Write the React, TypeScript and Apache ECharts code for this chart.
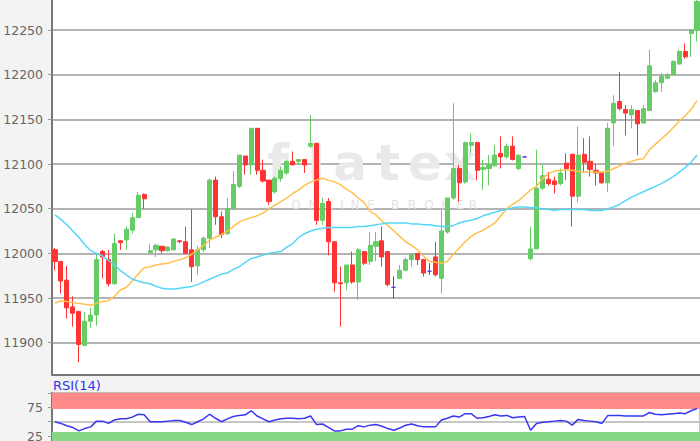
import { useEffect, useRef } from 'react';
import * as echarts from 'echarts';

const opens = [12004,11991,11970,11940,11935,11897,11924,11931,12002,11993,11966,12014,12015,12026,12040,12066,12001,12004,12008,12003,12004,12014,12013,12004,11986,12004,12017,12082,12041,12022,12050,12075,12109,12099,12140,12093,12082,12069,12084,12090,12103,12103,12105,12120,12123,12037,12058,12013,11967,11967,11987,11968,12002,11991,12008,12014,12002,11962,11972,11981,11993,12000,11993,11980,11996,11972,12024,12062,12095,12080,12121,12124,12094,12095,12098,12112,12108,12120,12095,12108,11994,12005,12073,12083,12081,12078,12101,12111,12064,12111,12103,12093,12090,12079,12146,12170,12161,12155,12160,12146,12160,12181,12191,12196,12200,12212,12226,12246,12250];
const closes = [11991,11969,11939,11933,11898,11924,11931,11993,11996,11966,12011,12012,12027,12040,12065,12061,12003,12009,12003,12007,12016,12013,12000,11985,12004,12017,12082,12041,12021,12050,12077,12110,12099,12140,12093,12081,12058,12084,12093,12103,12099,12105,12099,12123,12037,12056,12013,11967,11966,11987,11968,12004,11989,12009,12013,11996,11965,11962,11981,11993,11999,11993,11978,11980,11976,12025,12062,12095,12079,12124,12124,12093,12096,12099,12110,12108,12120,12105,12110,12108,12005,12073,12087,12078,12077,12090,12095,12064,12110,12102,12094,12090,12079,12140,12168,12162,12157,12161,12145,12162,12210,12191,12198,12200,12215,12226,12220,12250,12282];
const lows = [11981,11955,11927,11918,11878,11896,11916,11919,11972,11963,11965,12004,12004,12022,12040,12050,12000,11996,12000,12002,12003,12011,12000,11968,11976,12002,12006,12032,12017,12021,12050,12073,12088,12088,12088,12079,12054,12067,12080,12088,12099,12099,12090,12118,12032,12032,11998,11957,11918,11959,11966,11948,11987,11987,11991,11985,11963,11950,11972,11980,11985,11987,11974,11976,11974,11955,12022,12060,12058,12078,12112,12082,12071,12076,12097,12095,12106,12104,12093,12107,11992,12005,12071,12076,12067,12076,12082,12030,12057,12090,12086,12076,12078,12069,12120,12160,12132,12140,12110,12145,12160,12180,12181,12195,12200,12211,12218,12220,12237];
const highs = [12006,11991,11986,11952,11935,11934,11939,11999,12004,12004,12022,12015,12030,12045,12069,12067,12011,12011,12008,12008,12017,12015,12030,12049,12008,12019,12084,12086,12047,12062,12092,12110,12109,12140,12140,12105,12082,12086,12097,12105,12114,12105,12105,12155,12123,12062,12062,12013,11985,11987,12002,12006,12002,12024,12024,12030,12002,11974,11987,11995,12000,12000,11994,11989,12013,12049,12062,12168,12099,12125,12134,12125,12105,12110,12121,12131,12123,12131,12110,12109,12030,12116,12099,12091,12086,12095,12112,12111,12142,12129,12131,12100,12090,12146,12177,12203,12166,12166,12160,12166,12228,12194,12202,12202,12216,12228,12235,12251,12292];
const maShort = [11944,11947,11946,11945,11944,11943,11942,11944,11946,11947,11952,11959,11962,11969,11977,11984,11985,11987,11988,11989,11991,11993,11995,11999,12004,12009,12015,12018,12021,12025,12030,12035,12038,12040,12042,12045,12050,12054,12058,12062,12067,12071,12076,12080,12082,12084,12082,12080,12077,12072,12068,12062,12057,12047,12043,12036,12031,12025,12019,12013,12009,12004,11997,11991,11990,11989,11991,11999,12006,12013,12019,12023,12026,12030,12034,12042,12050,12055,12059,12065,12071,12075,12084,12089,12092,12093,12093,12093,12092,12091,12091,12091,12091,12092,12095,12098,12101,12103,12105,12106,12116,12122,12128,12134,12141,12148,12154,12161,12171];
const maLong = [12043,12038,12032,12025,12018,12010,12003,12000,11997,11992,11987,11981,11976,11971,11969,11967,11966,11963,11961,11960,11960,11961,11962,11963,11965,11968,11971,11974,11977,11978,11982,11985,11990,11994,11996,11998,12000,12001,12002,12007,12011,12018,12022,12025,12027,12028,12029,12029,12029,12029,12029,12030,12030,12031,12032,12033,12034,12034,12034,12034,12033,12033,12032,12032,12031,12030,12030,12031,12034,12036,12037,12039,12042,12044,12046,12048,12049,12051,12052,12052,12051,12051,12050,12049,12048,12049,12049,12049,12049,12049,12048,12048,12048,12050,12052,12055,12059,12063,12066,12069,12072,12075,12078,12082,12086,12091,12096,12102,12110];
const rsi = [50,47,43,40,34,38,41,51,51,47,53,55,55,58,63,62,50,50,50,51,52,52,49,45,50,55,63,56,50,55,59,61,62,69,60,55,50,53,55,56,56,55,56,60,45,46,40,34,34,37,37,43,41,44,45,42,38,35,39,44,46,43,41,41,41,53,56,60,58,64,64,56,57,59,62,60,61,57,58,59,35,47,49,50,51,52,51,44,54,52,51,50,47,61,61,61,60,60,60,60,66,63,62,63,64,65,64,69,73];
const rsiTicks = [25, 75];
const overbought = [72, 100];
const oversold = [0, 32];

const categories = opens.map((_, i) => String(i + 1));
const ohlc = opens.map((o, i) => [o, closes[i], lows[i], highs[i]]);

const wmLetters = ['f', 'l', 'a', 't', 'e', 'x'];
const wmX = [278, 316, 350, 388, 425, 460];
const subLetters = ['O', 'N', 'L', 'I', 'N', 'E', 'B', 'R', 'O', 'K', 'E', 'R'];
const subX = [296, 313, 329, 342, 355, 371, 395, 412, 429, 445, 460, 473];

export default function App() {
  const ref = useRef<HTMLDivElement>(null);
  useEffect(() => {
    if (!ref.current) return;
    const chart = echarts.init(ref.current, null, { renderer: 'svg' });
    const graphics: any[] = [];
    wmLetters.forEach((t, i) => graphics.push({
      type: 'text', x: wmX[i], y: 163, z: 1, silent: true,
      style: { text: t, fontSize: 50, fontWeight: 'bold', fontFamily: 'DejaVu Sans', fill: '#e9e9e9', align: 'center', verticalAlign: 'middle' },
    }));
    subLetters.forEach((t, i) => graphics.push({
      type: 'text', x: subX[i], y: 205, z: 1, silent: true,
      style: { text: t, fontSize: 12, fontFamily: 'DejaVu Sans', fill: '#e3e3e3', align: 'center', verticalAlign: 'middle' },
    }));
    graphics.push({
      type: 'text', x: 53, y: 385, z: 5,
      style: { text: 'RSI(14)', fontSize: 13, fontFamily: 'DejaVu Sans', fill: '#2b35e8', align: 'left', verticalAlign: 'middle' },
    });
    const option: any = {
      animation: false,
      backgroundColor: '#f3f3f3',
      graphic: graphics,
      grid: [
        { left: 52, right: 0, top: -3, height: 377.3, show: true, backgroundColor: '#fff', borderWidth: 0, containLabel: false, outerBoundsMode: 'none' },
        { left: 52, right: 0, top: 393, bottom: -9.4, show: true, backgroundColor: '#fff', borderColor: '#888', borderWidth: 1, containLabel: false, outerBoundsMode: 'none' },
      ],
      xAxis: [
        { type: 'category', gridIndex: 0, data: categories, boundaryGap: true, axisLine: { show: true, onZero: false, lineStyle: { color: '#777', width: 2 } }, axisTick: { show: false }, axisLabel: { show: false }, splitLine: { show: false } },
        { type: 'category', gridIndex: 1, data: categories, boundaryGap: true, axisLine: { show: false }, axisTick: { show: false }, axisLabel: { show: false }, splitLine: { show: false } },
      ],
      yAxis: [
        {
          type: 'value', gridIndex: 0, min: 11864.6, max: 12287, splitNumber: 8, minInterval: 50, maxInterval: 50, scale: true,
          axisLine: { show: true, lineStyle: { color: '#777', width: 2 } },
          axisTick: { show: true, length: 4, lineStyle: { color: '#999' } },
          axisLabel: { color: '#666', fontSize: 12.5, fontFamily: 'DejaVu Sans', margin: 9, showMinLabel: false, showMaxLabel: false, formatter: (v: number) => String(Math.round(v)) },
          splitLine: { show: true, lineStyle: { color: '#b3b3b3', width: 2 } },
        },
        {
          type: 'value', gridIndex: 1, min: 0, max: 100, interval: 25,
          axisLine: { show: true, lineStyle: { color: '#777', width: 2 } },
          axisTick: { show: true, length: 4, lineStyle: { color: '#999' } },
          axisLabel: { color: '#666', fontSize: 12.5, fontFamily: 'DejaVu Sans', margin: 9, formatter: (v: number) => (rsiTicks.includes(v) ? String(v) : '') },
          splitLine: { show: true, lineStyle: { color: ['rgba(0,0,0,0)', '#63c063', '#b3b3b3', '#e06a6a', 'rgba(0,0,0,0)'], width: 1.5 } },
        },
      ],
      series: [
        {
          type: 'candlestick', xAxisIndex: 0, yAxisIndex: 0, data: ohlc, barWidth: 4.6, z: 3,
          itemStyle: { color: '#66cc66', color0: '#ff3333', borderColor: '#66cc66', borderColor0: '#ff3333', borderColorDoji: '#5a3cf0', borderWidth: 1 },
        },
        { type: 'line', xAxisIndex: 0, yAxisIndex: 0, data: maShort, symbol: 'none', z: 4, lineStyle: { color: '#ffc04d', width: 1.5 } },
        { type: 'line', xAxisIndex: 0, yAxisIndex: 0, data: maLong, symbol: 'none', z: 4, lineStyle: { color: '#55d6f8', width: 1.5 } },
        {
          type: 'line', xAxisIndex: 1, yAxisIndex: 1, data: rsi, symbol: 'none', z: 4, lineStyle: { color: '#3838f0', width: 1.5 },
          markArea: {
            silent: true,
            data: [
              [{ yAxis: overbought[0], itemStyle: { color: '#ff8a8a' } }, { yAxis: overbought[1] }],
              [{ yAxis: oversold[0], itemStyle: { color: '#88d788' } }, { yAxis: oversold[1] }],
            ],
          },
        },
      ],
    };
    chart.setOption(option);
    return () => chart.dispose();
  }, []);
  return <div ref={ref} style={{ position: 'fixed', left: 0, top: 0, width: 700, height: 441 }} />;
}
